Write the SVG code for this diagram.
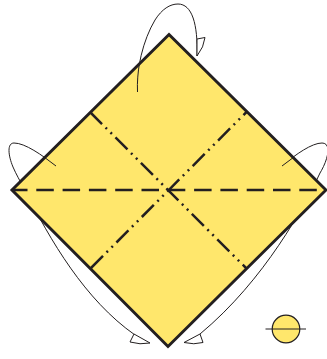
<svg xmlns="http://www.w3.org/2000/svg" width="327" height="359" viewBox="0 0 327 359">
<style>
.edge{fill:#ffe76c;stroke:#231f20;stroke-width:3;stroke-linejoin:miter}
.valley{fill:none;stroke:#231f20;stroke-width:2.500;stroke-dasharray:17.500 8.800;stroke-dashoffset:2}
.mount{fill:none;stroke:#231f20;stroke-width:2.500;stroke-dasharray:17 5 2 5 2 5}
.thin{fill:none;stroke:#231f20;stroke-width:1}
.head{fill:#fff;stroke:#231f20;stroke-width:1;stroke-linejoin:miter}
</style>
<g id="connectors">
<path class="thin" d="M137.500 92C136 70 143 40 155 20C162 9 170 4 178 4C192 4 198 24 197 56"/>
<path class="thin" d="M56 166C42 155 25 143 14 143C7 143 8 155 13 167C16 174 20 181 25 190C50 240 85 300 135 335"/>
<path class="thin" d="M282 166C296 154 312 143 322 143C332 143 328 160 320 173C305 205 265 280 200 334"/>
</g>
<g id="sheet">
<path class="edge" d="M169 34.500L326 190L168 346.500L12 190Z"/>
<path class="valley" d="M12 190H326"/>
<path class="mount" d="M90 112L246.500 268.500"/>
<path class="mount" d="M91 268L247 111.500"/>
</g>
<g id="connectors-front">
<path class="thin" d="M137.500 92C137 82 138 72 139.500 63"/>
<path class="thin" d="M56 166C52 163 48 160 44 157"/>
<path class="thin" d="M282 166C286 163 290 160 294 157"/>
<path class="head" d="M197 39L205 37.500Q204 47 197 56Z"/>
<path class="head" d="M134 334L130 342Q140 345 150 343Z"/>
<path class="head" d="M200 334L184 342.500Q194 345 203 342.500Z"/>
</g>
<g id="legend">
<circle cx="286" cy="329" r="13.800" fill="#ffe76c" stroke="#231f20" stroke-width="1.200"/>
<path d="M265.500 329H306" stroke="#231f20" stroke-width="1" fill="none"/>
</g>
</svg>
